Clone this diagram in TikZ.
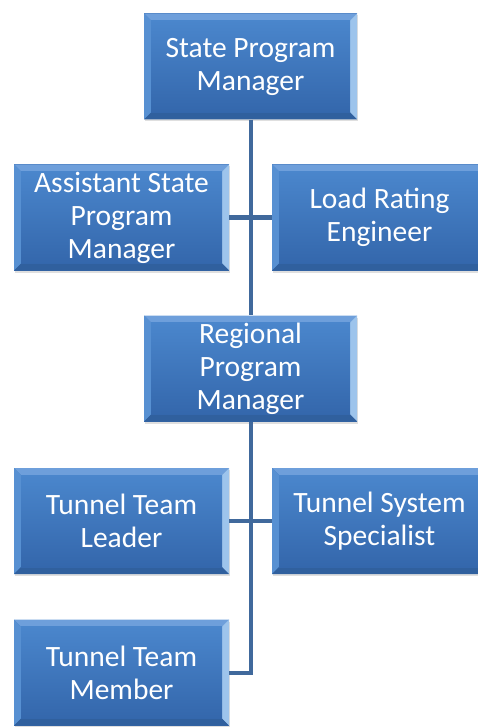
\documentclass[tikz,border=0pt]{standalone}
\usepackage{fontspec}
\setmainfont{Carlito}
\usetikzlibrary{shadows}

\definecolor{boxtop}{HTML}{4A86CC}
\definecolor{boxbot}{HTML}{3467AC}
\definecolor{bevtop}{HTML}{6E9FDB}
\definecolor{bevleft}{HTML}{5790D2}
\definecolor{bevright}{HTML}{9DC4EC}
\definecolor{bevbot}{HTML}{30609E}
\definecolor{linkcol}{HTML}{40699C}

\tikzset{
  rolebox/.style={rectangle, minimum width=215pt, minimum height=106pt,
    inner sep=0pt, align=center, text=white,
    font=\fontsize{29.5}{33}\selectfont, fill=boxbot,
    drop shadow={opacity=0.25, shadow xshift=1pt, shadow yshift=-2pt},
    path picture={
      \fill[bevtop] (path picture bounding box.north west) -- (path picture bounding box.north east)
        -- ++(-7pt,-7pt) -- ([shift={(7pt,-7pt)}]path picture bounding box.north west) -- cycle;
      \fill[bevleft] (path picture bounding box.north west) -- (path picture bounding box.south west)
        -- ++(7pt,7pt) -- ([shift={(7pt,-7pt)}]path picture bounding box.north west) -- cycle;
      \fill[bevright] (path picture bounding box.north east) -- (path picture bounding box.south east)
        -- ++(-7pt,7pt) -- ([shift={(-7pt,-7pt)}]path picture bounding box.north east) -- cycle;
      \fill[bevbot] (path picture bounding box.south west) -- (path picture bounding box.south east)
        -- ++(-7pt,7pt) -- ([shift={(7pt,7pt)}]path picture bounding box.south west) -- cycle;
      \fill[top color=boxtop, bottom color=boxbot]
        ([shift={(7pt,7pt)}]path picture bounding box.south west) rectangle
        ([shift={(-7pt,-7pt)}]path picture bounding box.north east);
    }},
  link/.style={linkcol, line width=4pt}
}

\begin{document}
\begin{tikzpicture}[x=1pt,y=-1pt]
  \clip (0,0) rectangle (478,727);
  \fill[white] (0,0) rectangle (478,727);

  \node[rolebox, minimum width=213pt] (spm) at (250.5,66.5) {State Program\\Manager};
  \node[rolebox] (asm) at (121.5,217.5) {Assistant State\\Program\\Manager};
  \node[rolebox] (lre) at (379.5,217.5) {Load Rating\\Engineer};
  \node[rolebox, minimum width=213pt] (rpm) at (250.5,368.5) {Regional\\Program\\Manager};
  \node[rolebox] (ttl) at (121.5,521) {Tunnel Team\\Leader};
  \node[rolebox] (tss) at (379.5,521) {Tunnel System\\Specialist};
  \node[rolebox] (ttm) at (121.5,672.5) {Tunnel Team\\Member};

  % connectors
  \draw[link] (spm.south) -- (rpm.north);
  \draw[link] (asm.east) -- (lre.west);
  \draw[link] (rpm.south) |- (ttm.east);
  \draw[link] (ttl.east) -- (tss.west);
\end{tikzpicture}
\end{document}
